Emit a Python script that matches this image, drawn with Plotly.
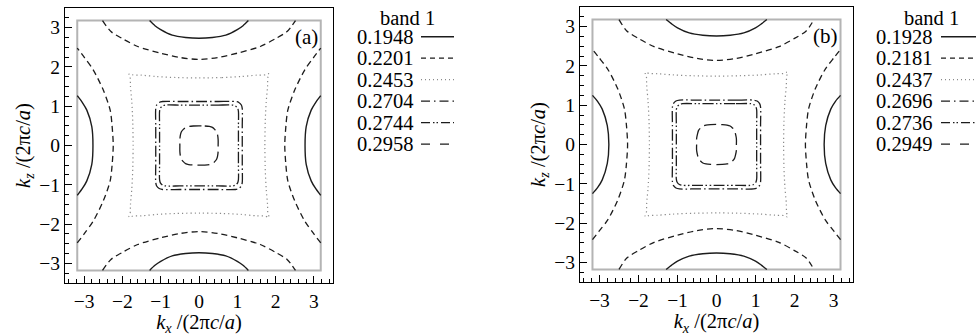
import plotly.graph_objects as go

FONT = "Liberation Serif"

# ---------------- data ----------------
LEGEND_TITLE = "band 1"
LEVELS_A = [0.1948, 0.2201, 0.2453, 0.2704, 0.2744, 0.2958]
LEVELS_B = [0.1928, 0.2181, 0.2437, 0.2696, 0.2736, 0.2949]
PANEL_LABELS = ["(a)", "(b)"]
TICKS = [-3, -2, -1, 0, 1, 2, 3]
AXIS_RANGE = [-3.5, 3.5]
ZONE_EDGE = 3.18          # grey boundary of the plotted region

# contour geometry, panel (a)  (half / quarter curves, mirrored by symmetry)
A_SOLID_TOP_X = [0.0, 0.35, 0.70, 1.00, 1.15, 1.29]
A_SOLID_TOP_Y = [2.73, 2.75, 2.81, 2.95, 3.05, 3.18]
A_SOLID_SIDE_Y = [0.0, 0.48, 0.90, 1.10, 1.27]
A_SOLID_SIDE_X = [2.77, 2.80, 2.93, 3.05, 3.18]
A_DASH_TOP_X = [0.0, 0.50, 1.00, 1.60, 2.00, 2.30, 2.52]
A_DASH_TOP_Y = [2.19, 2.24, 2.35, 2.52, 2.72, 2.90, 3.18]
A_DASH_SIDE_Y = [0.0, 0.50, 0.90, 1.41, 1.92, 2.25, 2.48]
A_DASH_SIDE_X = [2.24, 2.27, 2.32, 2.50, 2.76, 3.00, 3.18]
A_DOT_QX = [0.0, 0.60, 1.10, 1.50, 1.74, 1.81, 1.83, 1.80, 1.79, 1.755, 1.73, 1.72]
A_DOT_QY = [1.72, 1.73, 1.755, 1.79, 1.80, 1.83, 1.81, 1.74, 1.50, 1.10, 0.60, 0.0]
A_SQ1_QX = [0.0, 0.50, 0.95, 1.04, 1.106, 1.13, 1.13, 1.13]
A_SQ1_QY = [1.12, 1.12, 1.12, 1.096, 1.03, 0.94, 0.50, 0.0]
A_SQ2_QX = [0.0, 0.50, 0.87, 0.95, 1.009, 1.03, 1.03, 1.03]
A_SQ2_QY = [1.03, 1.03, 1.03, 1.009, 0.95, 0.87, 0.50, 0.0]
A_RING_QX = [0.0, 0.15, 0.27, 0.35, 0.41, 0.46, 0.485, 0.50, 0.50]
A_RING_QY = [0.50, 0.497, 0.485, 0.46, 0.41, 0.35, 0.27, 0.15, 0.0]

# panel (b)
B_SOLID_TOP_X = [0.0, 0.35, 0.70, 1.00, 1.15, 1.29]
B_SOLID_TOP_Y = [2.76, 2.78, 2.84, 2.97, 3.07, 3.18]
B_SOLID_SIDE_Y = [0.0, 0.48, 0.90, 1.10, 1.25]
B_SOLID_SIDE_X = [2.76, 2.80, 2.93, 3.05, 3.18]
B_DASH_TOP_X = [0.0, 0.50, 1.00, 1.60, 2.00, 2.30, 2.50]
B_DASH_TOP_Y = [2.14, 2.19, 2.31, 2.49, 2.70, 2.89, 3.18]
B_DASH_SIDE_Y = [0.0, 0.50, 0.90, 1.41, 1.92, 2.22, 2.42]
B_DASH_SIDE_X = [2.28, 2.31, 2.36, 2.53, 2.79, 3.02, 3.18]
B_DOT_QX = [0.0, 0.60, 1.10, 1.50, 1.74, 1.81, 1.83, 1.80, 1.79, 1.755, 1.73, 1.72]
B_DOT_QY = [1.74, 1.75, 1.77, 1.80, 1.81, 1.84, 1.82, 1.75, 1.50, 1.10, 0.60, 0.0]
B_SQ1_QX = [0.0, 0.50, 0.95, 1.04, 1.106, 1.13, 1.13, 1.13]
B_SQ1_QY = [1.13, 1.13, 1.13, 1.106, 1.04, 0.95, 0.50, 0.0]
B_SQ2_QX = [0.0, 0.50, 0.87, 0.95, 1.009, 1.03, 1.03, 1.03]
B_SQ2_QY = [1.04, 1.04, 1.04, 1.019, 0.96, 0.88, 0.50, 0.0]
B_RING_QX = [0.0, 0.15, 0.27, 0.35, 0.41, 0.46, 0.485, 0.51, 0.51]
B_RING_QY = [0.51, 0.507, 0.495, 0.47, 0.42, 0.36, 0.275, 0.15, 0.0]

# ---------------- styles ----------------
INK = "#1c1c1c"
LINE_STYLES = [
    dict(dash="solid", color=INK, width=1.4),
    dict(dash="6px,4px", color=INK, width=1.3),
    dict(dash="1.2px,3px", color="#8a8a8a", width=1.2),
    dict(dash="11px,3px,1.5px,3px", color=INK, width=1.3),
    dict(dash="11px,2.5px,1.5px,2.5px,1.5px,2.5px", color=INK, width=1.3),
    dict(dash="12px,5px", color=INK, width=1.3),
]
LEGEND_DASH = ["solid", "5px,4px", "1px,3px", "9px,4px,1.5px,4px",
               "9px,3px,1.5px,2px,1.5px,3px", "9px,10px"]


def closed_curve(qx, qy):
    xs = list(qx) + [x for x in qx[::-1]] + [-x for x in qx] + [-x for x in qx[::-1]]
    ys = list(qy) + [-y for y in qy[::-1]] + [-y for y in qy] + [y for y in qy[::-1]]
    return xs, ys


def arcs(tx, ty, sy, sx):
    """four open arcs: top, bottom (from tx,ty) and left, right (from sy,sx)"""
    hx = [-x for x in tx[::-1]] + list(tx[1:])
    hy = list(ty[::-1]) + list(ty[1:])
    vy = [-y for y in sy[::-1]] + list(sy[1:])
    vx = list(sx[::-1]) + list(sx[1:])
    xs = hx + [None] + hx + [None] + [-x for x in vx] + [None] + vx
    ys = hy + [None] + [-y for y in hy] + [None] + vy + [None] + vy
    return xs, ys


panels = [
    dict(xa="x", ya="y", curves=[
        arcs(A_SOLID_TOP_X, A_SOLID_TOP_Y, A_SOLID_SIDE_Y, A_SOLID_SIDE_X),
        arcs(A_DASH_TOP_X, A_DASH_TOP_Y, A_DASH_SIDE_Y, A_DASH_SIDE_X),
        closed_curve(A_DOT_QX, A_DOT_QY),
        closed_curve(A_SQ1_QX, A_SQ1_QY),
        closed_curve(A_SQ2_QX, A_SQ2_QY),
        closed_curve(A_RING_QX, A_RING_QY)], levels=LEVELS_A),
    dict(xa="x2", ya="y2", curves=[
        arcs(B_SOLID_TOP_X, B_SOLID_TOP_Y, B_SOLID_SIDE_Y, B_SOLID_SIDE_X),
        arcs(B_DASH_TOP_X, B_DASH_TOP_Y, B_DASH_SIDE_Y, B_DASH_SIDE_X),
        closed_curve(B_DOT_QX, B_DOT_QY),
        closed_curve(B_SQ1_QX, B_SQ1_QY),
        closed_curve(B_SQ2_QX, B_SQ2_QY),
        closed_curve(B_RING_QX, B_RING_QY)], levels=LEVELS_B),
]

fig = go.Figure()
shapes = []
annotations = []

W, H = 980, 336
# legend layout in pixels (layout, not data)
LEG = [dict(text_right=415, line0=421, line1=454, title_c=407),
       dict(text_right=934, line0=941, line1=976, title_c=931)]
ROW0, ROWSTEP, TITLE_Y = 36.7, 21.5, 18
LEG_FONT = 20.5

for p, panel in enumerate(panels):
    for k, (xs, ys) in enumerate(panel["curves"]):
        fig.add_trace(go.Scatter(
            x=xs, y=ys, mode="lines", xaxis=panel["xa"], yaxis=panel["ya"],
            line=dict(shape="spline", smoothing=0.8, **LINE_STYLES[k]),
            connectgaps=False, showlegend=False, hoverinfo="skip"))
    # grey zone boundary
    shapes.append(dict(type="rect", xref=panel["xa"], yref=panel["ya"],
                       x0=-ZONE_EDGE, x1=ZONE_EDGE, y0=-ZONE_EDGE, y1=ZONE_EDGE,
                       line=dict(color="#b4b4b4", width=2), layer="below"))
    annotations.append(dict(text=PANEL_LABELS[p], xref=panel["xa"], yref=panel["ya"],
                            x=2.8, y=2.77, showarrow=False,
                            font=dict(family=FONT, size=21, color="black")))
    lg = LEG[p]
    annotations.append(dict(text=LEGEND_TITLE, xref="paper", yref="paper",
                            x=lg["title_c"] / W, y=1 - TITLE_Y / H, xanchor="center",
                            yanchor="middle", showarrow=False,
                            font=dict(family=FONT, size=LEG_FONT, color="black")))
    for k, lev in enumerate(panel["levels"]):
        yc = ROW0 + k * ROWSTEP
        annotations.append(dict(text=f"{lev:.4f}", xref="paper", yref="paper",
                                x=lg["text_right"] / W, y=1 - yc / H, xanchor="right",
                                yanchor="middle", showarrow=False,
                                font=dict(family=FONT, size=LEG_FONT, color="black")))
        st = LINE_STYLES[k]
        shapes.append(dict(type="line", xref="paper", yref="paper",
                           x0=lg["line0"] / W, x1=lg["line1"] / W,
                           y0=1 - yc / H, y1=1 - yc / H,
                           line=dict(color=st["color"], width=st["width"], dash=LEGEND_DASH[k])))


def make_axis(domain, anchor, minor_dtick, title):
    return dict(
        domain=domain, anchor=anchor, range=AXIS_RANGE, autorange=False,
        showline=True, mirror=True, linecolor="black", linewidth=1.2,
        ticks="inside", ticklen=7, tickwidth=1, tickcolor="black",
        tickmode="linear", tick0=0, dtick=1,
        minor=dict(dtick=minor_dtick, tick0=0, ticks="inside", ticklen=3.5,
                   tickwidth=1, tickcolor="black", showgrid=False),
        showgrid=False, zeroline=False,
        tickfont=dict(family=FONT, size=19.5, color="black"),
        title=dict(text=title, font=dict(family=FONT, size=20.5, color="black"), standoff=3),
        fixedrange=True,
    )


XT = "<i>k</i><sub><i>x</i></sub> /(2π<i>c</i>/<i>a</i>)"
ZT = "<i>k</i><sub><i>z</i></sub> /(2π<i>c</i>/<i>a</i>)"

fig.update_layout(
    width=W, height=H, margin=dict(l=0, r=0, t=0, b=0),
    paper_bgcolor="white", plot_bgcolor="white", showlegend=False,
    font=dict(family=FONT, color="black"),
    xaxis=make_axis([65 / W, 333 / W], "y", 0.2, XT),
    yaxis=make_axis([1 - 283 / H, 1 - 8 / H], "x", 0.25, ZT),
    xaxis2=make_axis([580 / W, 853 / W], "y2", 0.2, XT),
    yaxis2=make_axis([1 - 282 / H, 1 - 7 / H], "x2", 0.25, ZT),
    shapes=shapes, annotations=annotations,
)

fig.write_html("out.html")
